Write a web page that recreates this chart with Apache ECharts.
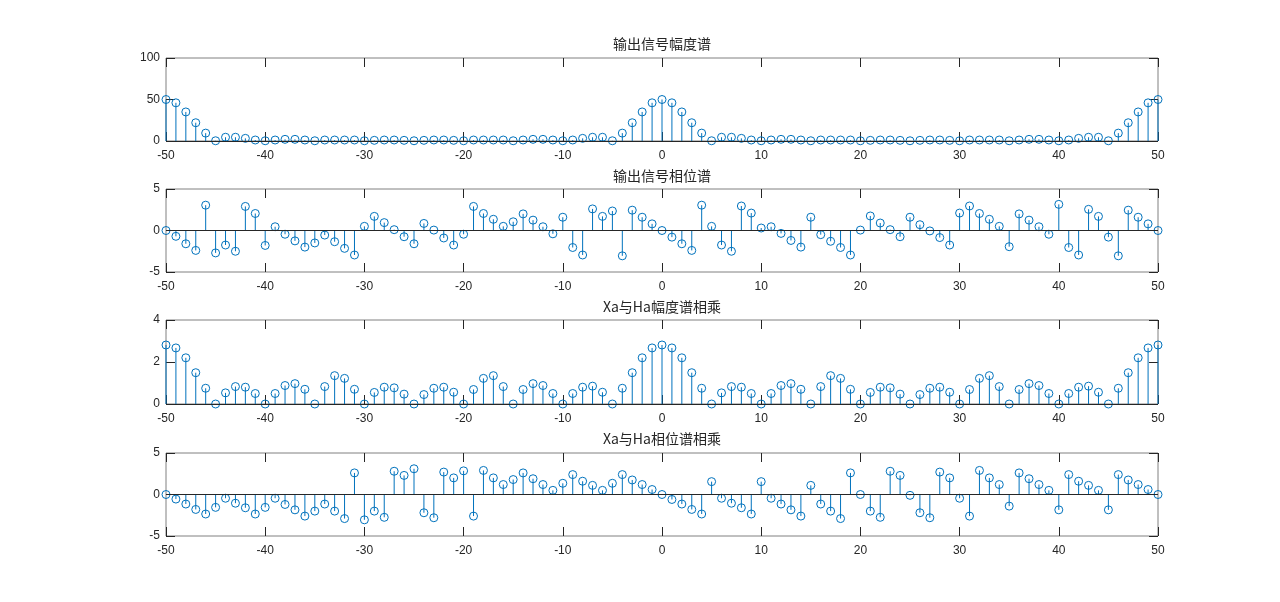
<!DOCTYPE html>
<html>
<head>
<meta charset="utf-8">
<title>stem</title>
<script src="https://cdn.jsdelivr.net/npm/echarts/dist/echarts.min.js"></script>
<style>
html, body { margin: 0; padding: 0; background: #fff; }
#main { width: 1280px; height: 602px; }
</style>
</head>
<body>
<div id="main"></div>
<script>
// 采样点 k = -50..50
var kList = [];
for (var k = -50; k <= 50; k++) kList.push(k);

var xTicks = { min: -50, max: 50, interval: 10 };

// 输出信号幅度谱
var ampOut = [
    50, 46, 35, 22, 9.5, 0.3, 4.5, 4.5, 3.2, 1.2,
    0.3, 1.2, 2, 2, 1.2, 0.3, 1.2, 1.2, 1.2, 1.2,
    0.3, 0.8, 1.2, 1.2, 0.8, 0.3, 0.8, 1.2, 1.2, 0.8,
    0.3, 1.2, 1.2, 1.2, 1.2, 0.3, 1.2, 2, 2, 1.2,
    0.3, 1.2, 3.2, 4.5, 4.5, 0.3, 9.5, 22, 35, 46,
    50, 46, 35, 22, 9.5, 0.3, 4.5, 4.5, 3.2, 1.2,
    0.3, 1.2, 2, 2, 1.2, 0.3, 1.2, 1.2, 1.2, 1.2,
    0.3, 0.8, 1.2, 1.2, 0.8, 0.3, 0.8, 1.2, 1.2, 0.8,
    0.3, 1.2, 1.2, 1.2, 1.2, 0.3, 1.2, 2, 2, 1.2,
    0.3, 1.2, 3.2, 4.5, 4.5, 0.3, 9.5, 22, 35, 46,
    50
];

// 输出信号相位谱
var phaseOut = [
    0, -0.7, -1.6, -2.4, 3.05, -2.7, -1.75, -2.5, 2.9, 2.05,
    -1.8, 0.45, -0.45, -1.25, -2.0, -1.5, -0.55, -1.35, -2.15, -2.95,
    0.5, 1.7, 0.95, 0.1, -0.75, -1.6, 0.85, 0.05, -0.9, -1.75,
    -0.45, 2.9, 2.05, 1.35, 0.5, 1.05, 2.0, 1.25, 0.45, -0.4,
    1.6, -2.05, -2.95, 2.6, 1.7, 2.35, -3.05, 2.45, 1.6, 0.8,
    0, -0.8, -1.6, -2.4, 3.05, 0.5, -1.75, -2.5, 2.95, 2.1,
    0.3, 0.45, -0.35, -1.2, -2.0, 1.6, -0.5, -1.3, -2.05, -2.95,
    0.05, 1.75, 0.9, 0.1, -0.75, 1.6, 0.7, -0.05, -0.85, -1.75,
    2.1, 2.95, 2.05, 1.35, 0.5, -1.95, 2.0, 1.25, 0.45, -0.45,
    3.15, -2.05, -2.95, 2.55, 1.7, -0.8, -3.05, 2.45, 1.6, 0.8,
    0
];

// Xa与Ha幅度谱相乘
var ampProd = [
    2.81, 2.67, 2.2, 1.49, 0.75, 0, 0.53, 0.83, 0.8, 0.5,
    0, 0.5, 0.88, 0.97, 0.7, 0, 0.83, 1.35, 1.22, 0.7,
    0, 0.55, 0.8, 0.77, 0.47, 0, 0.45, 0.75, 0.8, 0.56,
    0, 0.69, 1.22, 1.35, 0.83, 0, 0.69, 0.97, 0.88, 0.5,
    0, 0.5, 0.8, 0.85, 0.56, 0, 0.75, 1.49, 2.2, 2.67,
    2.81, 2.67, 2.2, 1.49, 0.75, 0, 0.53, 0.83, 0.8, 0.5,
    0, 0.5, 0.88, 0.97, 0.7, 0, 0.83, 1.35, 1.22, 0.7,
    0, 0.55, 0.8, 0.77, 0.47, 0, 0.45, 0.75, 0.8, 0.56,
    0, 0.69, 1.22, 1.35, 0.83, 0, 0.69, 0.97, 0.88, 0.5,
    0, 0.5, 0.8, 0.85, 0.56, 0, 0.75, 1.49, 2.2, 2.67,
    2.81
];

// Xa与Ha相位谱相乘
var phaseProd = [
    0, -0.55, -1.15, -1.8, -2.35, -1.55, -0.45, -1.05, -1.6, -2.35,
    -1.55, -0.45, -1.2, -1.85, -2.6, -2.0, -1.15, -2.0, -2.9, 2.6,
    -3.05, -2.0, -2.75, 2.8, 2.3, 3.1, -2.2, -2.8, 2.7, 2.0,
    2.85, -2.6, 2.9, 2.0, 1.2, 1.8, 2.6, 1.9, 1.2, 0.5,
    1.35, 2.4, 1.6, 1.1, 0.5, 1.35, 2.4, 1.75, 1.2, 0.6,
    0, -0.6, -1.15, -1.8, -2.35, 1.55, -0.45, -1.05, -1.6, -2.35,
    1.55, -0.45, -1.15, -1.85, -2.6, 1.1, -1.15, -2.0, -2.9, 2.6,
    0, -2.0, -2.75, 2.8, 2.3, -0.1, -2.2, -2.8, 2.7, 2.0,
    -0.45, -2.6, 2.9, 2.0, 1.2, -1.4, 2.6, 1.9, 1.2, 0.5,
    -1.85, 2.4, 1.6, 1.1, 0.5, -1.85, 2.4, 1.75, 1.2, 0.6,
    0
];

var titles = ['输出信号幅度谱', '输出信号相位谱', 'Xa与Ha幅度谱相乘', 'Xa与Ha相位谱相乘'];
var yRanges = [
    { min: 0, max: 100, interval: 50 },
    { min: -5, max: 5, interval: 5 },
    { min: 0, max: 4, interval: 2 },
    { min: -5, max: 5, interval: 5 }
];
var values = [ampOut, phaseOut, ampProd, phaseProd];

// 版面位置 (px)
var plotLeft = 166, plotWidth = 992;
var plotTops = [58, 189, 320, 453];
var plotHeights = [83, 83, 84, 83];
var titleY = [44, 176, 307, 439];

var stemColor = '#0072BD';
var axisColor = '#262626';
var boxColor = '#808080';
var fontFamily = 'Liberation Sans, Arial, Helvetica, sans-serif';
var cjkFont = 'Noto Sans CJK SC, Liberation Sans, sans-serif';

var myChart = echarts.init(document.getElementById('main'));

var grid = [], xAxis = [], yAxis = [], series = [], graphic = [];

function tickAxis(gridIndex, position, range, withLabel, labelMargin) {
    return {
        type: 'value', gridIndex: gridIndex, position: position,
        min: range.min, max: range.max, interval: range.interval,
        axisLine: { show: false, onZero: false },
        axisTick: { show: true, inside: true, length: 9, lineStyle: { color: axisColor } },
        axisLabel: {
            show: withLabel, color: axisColor, fontSize: 12,
            fontFamily: fontFamily, margin: labelMargin
        },
        splitLine: { show: false }
    };
}

for (var i = 0; i < 4; i++) {
    var pts = [];
    for (var j = 0; j < kList.length; j++) {
        pts.push([kList[j], values[i][j]]);
    }

    grid.push({
        left: plotLeft, top: plotTops[i], width: plotWidth, height: plotHeights[i],
        show: true, borderColor: boxColor, borderWidth: 1, backgroundColor: '#fff'
    });

    // 下方 x 轴带标签, 上方/右侧只画刻度
    xAxis.push(tickAxis(i, 'bottom', xTicks, true, 9));
    xAxis.push(tickAxis(i, 'top', xTicks, false, 0));
    yAxis.push(tickAxis(i, 'left', yRanges[i], true, 6));
    yAxis.push(tickAxis(i, 'right', yRanges[i], false, 0));

    // 杆
    series.push({
        type: 'custom',
        xAxisIndex: 2 * i, yAxisIndex: 2 * i,
        data: pts,
        silent: true,
        renderItem: function (params, api) {
            var p0 = api.coord([api.value(0), 0]);
            var p1 = api.coord([api.value(0), api.value(1)]);
            return {
                type: 'line',
                shape: { x1: p0[0], y1: p0[1], x2: p1[0], y2: p1[1] },
                style: { stroke: stemColor, lineWidth: 1 }
            };
        }
    });

    // 圆圈 + 基线
    series.push({
        type: 'scatter',
        xAxisIndex: 2 * i, yAxisIndex: 2 * i,
        data: pts,
        symbol: 'circle',
        symbolSize: 8,
        silent: true,
        itemStyle: { color: 'rgba(0,0,0,0)', borderColor: stemColor, borderWidth: 1, opacity: 1 },
        markLine: {
            silent: true,
            symbol: ['none', 'none'],
            label: { show: false },
            lineStyle: { color: axisColor, width: 1, type: 'solid' },
            data: [{ yAxis: 0 }]
        },
        z: 3
    });

    graphic.push({
        type: 'text',
        x: plotLeft + plotWidth / 2,
        y: titleY[i],
        style: {
            text: titles[i],
            fill: axisColor,
            font: '14px ' + cjkFont,
            textAlign: 'center',
            textVerticalAlign: 'middle'
        }
    });
}

var option = {
    animation: false,
    backgroundColor: '#fff',
    grid: grid,
    xAxis: xAxis,
    yAxis: yAxis,
    series: series,
    graphic: graphic
};
myChart.setOption(option, true);

window.addEventListener('resize', function () {
    myChart.resize();
});
</script>
</body>
</html>
